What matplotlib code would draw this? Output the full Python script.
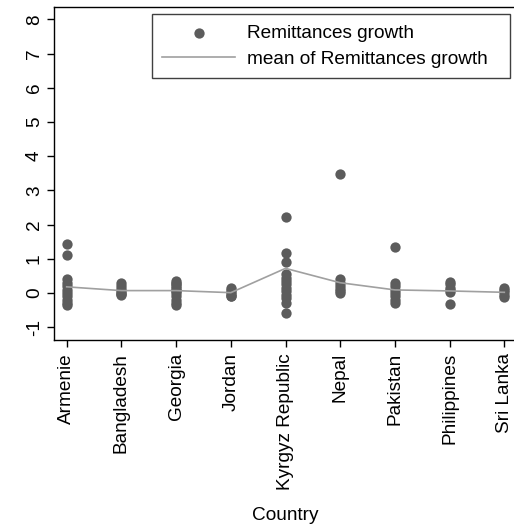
import matplotlib
matplotlib.use("Agg")
import matplotlib.pyplot as plt

plt.rcParams["font.family"] = ["Liberation Sans", "DejaVu Sans"]

countries = ["Armenie", "Bangladesh", "Georgia", "Jordan", "Kyrgyz Republic",
             "Nepal", "Pakistan", "Philippines", "Sri Lanka"]

# remittances growth per country
armenie = [1.43, 1.1, 0.42, 0.3, 0.2, 0.1, 0.0, -0.1, -0.2, -0.3, -0.35]
bangladesh = [0.3, 0.2, 0.12, 0.05, 0.0, -0.03, -0.06]
georgia = [0.35, 0.3, 0.25, 0.2, 0.15, 0.1, 0.05, 0.0, -0.1, -0.2, -0.3, -0.35]
jordan = [0.14, 0.08, 0.02, -0.03, -0.08, -0.1]
kyrgyz = [2.23, 1.16, 0.92, 0.55, 0.45, 0.35, 0.25, 0.15, 0.05, -0.05, -0.15, -0.3, -0.58]
nepal = [3.48, 0.4, 0.3, 0.2, 0.12, 0.05, 0.0]
pakistan = [1.34, 0.3, 0.2, 0.1, 0.0, -0.1, -0.2, -0.3]
philippines = [0.32, 0.25, 0.15, 0.08, 0.03, -0.32]
sri_lanka = [0.15, 0.08, 0.02, -0.05, -0.11]

growth = [armenie, bangladesh, georgia, jordan, kyrgyz, nepal, pakistan, philippines, sri_lanka]
mean_growth = [0.18, 0.07, 0.07, 0.01, 0.72, 0.30, 0.09, 0.06, 0.02]

W, H = 514, 529
fig = plt.figure(figsize=(W / 100, H / 100), dpi=100)
ax = fig.add_axes([54 / W, 1 - 340 / H, (517 - 54) / W, (340 - 7) / H])

fs = 13.7
dot_col = "#5c5c5c"
line_col = "#a0a0a0"

xs, ys = [], []
for i, vals in enumerate(growth):
    xs += [i] * len(vals)
    ys += vals
ax.scatter(xs, ys, s=55, color=dot_col, linewidths=0, zorder=2, label="Remittances growth")
ax.plot(range(len(countries)), mean_growth, color=line_col, lw=1.2, zorder=3,
        label="mean of Remittances growth")

ax.set_xlim(-0.232, 8.232)
ax.set_ylim(-1.374, 8.36)
ax.set_xticks(range(len(countries)))
ax.set_xticklabels(countries, rotation=90, fontsize=fs)
ax.set_yticks(range(-1, 9))
ax.set_yticklabels([str(v) for v in range(-1, 9)], rotation=90, fontsize=fs, va="center")
ax.tick_params(axis="both", length=5, width=1, color="black", pad=3)
ax.tick_params(axis="x", pad=4.5)
ax.set_xlabel("Country", fontsize=fs, labelpad=12)

for s in ax.spines.values():
    s.set_linewidth(1)
    s.set_color("black")

leg = ax.legend(loc="upper left", bbox_to_anchor=(152 / W, 1 - 77 / H, 358 / W, 63 / H),
                bbox_transform=fig.transFigure, mode="expand", borderaxespad=0,
                fontsize=fs, handlelength=3.8, handletextpad=0.65, borderpad=0.55,
                labelspacing=0.46, fancybox=False, framealpha=1, scatterpoints=1)
leg.get_frame().set_edgecolor("#404040")
leg.get_frame().set_linewidth(1)

fig.savefig("out.png", dpi=100)
